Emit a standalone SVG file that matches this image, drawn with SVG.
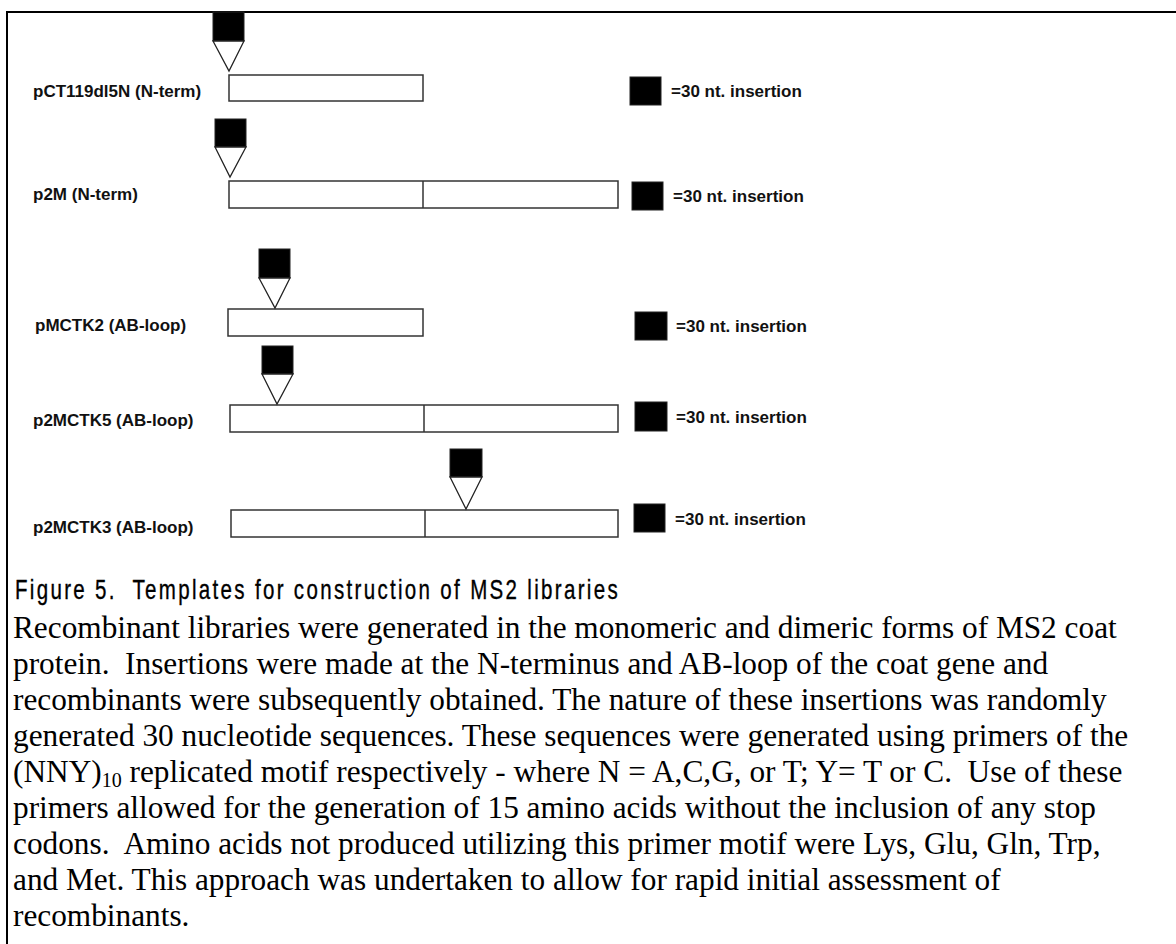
<svg xmlns="http://www.w3.org/2000/svg" width="1176" height="944" viewBox="0 0 1176 944">
<style>
.lbl{font-family:"Liberation Sans",Arial,sans-serif;font-weight:bold;font-size:17px;fill:#111}
.bar{fill:#fff;stroke:#333;stroke-width:1.5}
.div{stroke:#333;stroke-width:1.5}
.ins{fill:#000;stroke:#222;stroke-width:1}
.tri{fill:#fff;stroke:#222;stroke-width:1.3;stroke-linejoin:miter}
.cap{font-family:"Liberation Sans",Arial,sans-serif;font-size:27px;fill:#000;stroke:#000;stroke-width:0.35;white-space:pre}
.body{font-family:"Liberation Serif","Times New Roman",serif;font-size:31.3px;fill:#000;white-space:pre}
</style>
<rect width="1176" height="944" fill="#fff"/>
<g id="frame" stroke="#000" stroke-width="2" fill="none">
<line x1="6" y1="12" x2="1176" y2="12"/>
<line x1="7" y1="11" x2="7" y2="944"/>
</g>

<g id="construct-pCT119dl5N">
<text class="lbl" x="33" y="97">pCT119dl5N (N-term)</text>
<rect class="bar" x="229" y="75" width="194" height="26"/>
<rect class="ins" x="213" y="12" width="31" height="29"/>
</g>
<g id="legend-1">
<rect class="ins" x="630" y="77" width="31" height="28"/>
<text class="lbl" x="671" y="97">=30 nt. insertion</text>
</g>

<g id="construct-p2M">
<text class="lbl" x="33" y="200">p2M (N-term)</text>
<rect class="bar" x="229" y="181" width="389" height="27"/>
<line class="div" x1="423" y1="181" x2="423" y2="208"/>
<rect class="ins" x="215" y="119" width="31" height="28"/>
</g>
<g id="legend-2">
<rect class="ins" x="632" y="182" width="31" height="28"/>
<text class="lbl" x="673" y="202">=30 nt. insertion</text>
</g>

<g id="construct-pMCTK2">
<text class="lbl" x="35" y="331">pMCTK2 (AB-loop)</text>
<rect class="bar" x="228" y="309" width="195" height="27"/>
<rect class="ins" x="259" y="249" width="31" height="29"/>
</g>
<g id="legend-3">
<rect class="ins" x="635" y="312" width="32" height="28"/>
<text class="lbl" x="676" y="332">=30 nt. insertion</text>
</g>

<g id="construct-p2MCTK5">
<text class="lbl" x="33" y="426">p2MCTK5 (AB-loop)</text>
<rect class="bar" x="230" y="405" width="388" height="27"/>
<line class="div" x1="424" y1="405" x2="424" y2="432"/>
<rect class="ins" x="262" y="346" width="31" height="28"/>
</g>
<g id="legend-4">
<rect class="ins" x="635" y="402" width="32" height="29"/>
<text class="lbl" x="676" y="423">=30 nt. insertion</text>
</g>

<g id="construct-p2MCTK3">
<text class="lbl" x="33" y="533">p2MCTK3 (AB-loop)</text>
<rect class="bar" x="231" y="510" width="387" height="27"/>
<line class="div" x1="425" y1="510" x2="425" y2="537" stroke-width="2.2"/>
<rect class="ins" x="450" y="449" width="32" height="28"/>
</g>
<g id="legend-5">
<rect class="ins" x="634" y="504" width="31" height="28"/>
<text class="lbl" x="675" y="525">=30 nt. insertion</text>
</g>

<g id="connectors">
<polygon class="tri" points="213,41 244,41 229,71"/>
<polygon class="tri" points="215,147 246,147 230,177"/>
<polygon class="tri" points="259,278 290,278 275,308"/>
<polygon class="tri" points="262,374 293,374 277,404"/>
<polygon class="tri" points="450,477 482,477 466,509"/>
</g>

<g id="caption">
<text class="cap" transform="translate(15,599) scale(0.76,1)" x="0" y="0" textLength="793" lengthAdjust="spacing">Figure 5.  Templates for construction of MS2 libraries</text>
<text class="body" x="13" y="638">Recombinant libraries were generated in the monomeric and dimeric forms of MS2 coat</text>
<text class="body" x="13" y="674">protein.  Insertions were made at the N-terminus and AB-loop of the coat gene and</text>
<text class="body" x="13" y="710">recombinants were subsequently obtained. The nature of these insertions was randomly</text>
<text class="body" x="13" y="746">generated 30 nucleotide sequences. These sequences were generated using primers of the</text>
<text class="body" x="13" y="782">(NNY)<tspan font-size="20" baseline-shift="-5">10</tspan> replicated motif respectively - where N = A,C,G, or T; Y= T or C.  Use of these</text>
<text class="body" x="13" y="818">primers allowed for the generation of 15 amino acids without the inclusion of any stop</text>
<text class="body" x="13" y="854">codons.  Amino acids not produced utilizing this primer motif were Lys, Glu, Gln, Trp,</text>
<text class="body" x="13" y="890">and Met. This approach was undertaken to allow for rapid initial assessment of</text>
<text class="body" x="13" y="926">recombinants.</text>
</g>
</svg>
